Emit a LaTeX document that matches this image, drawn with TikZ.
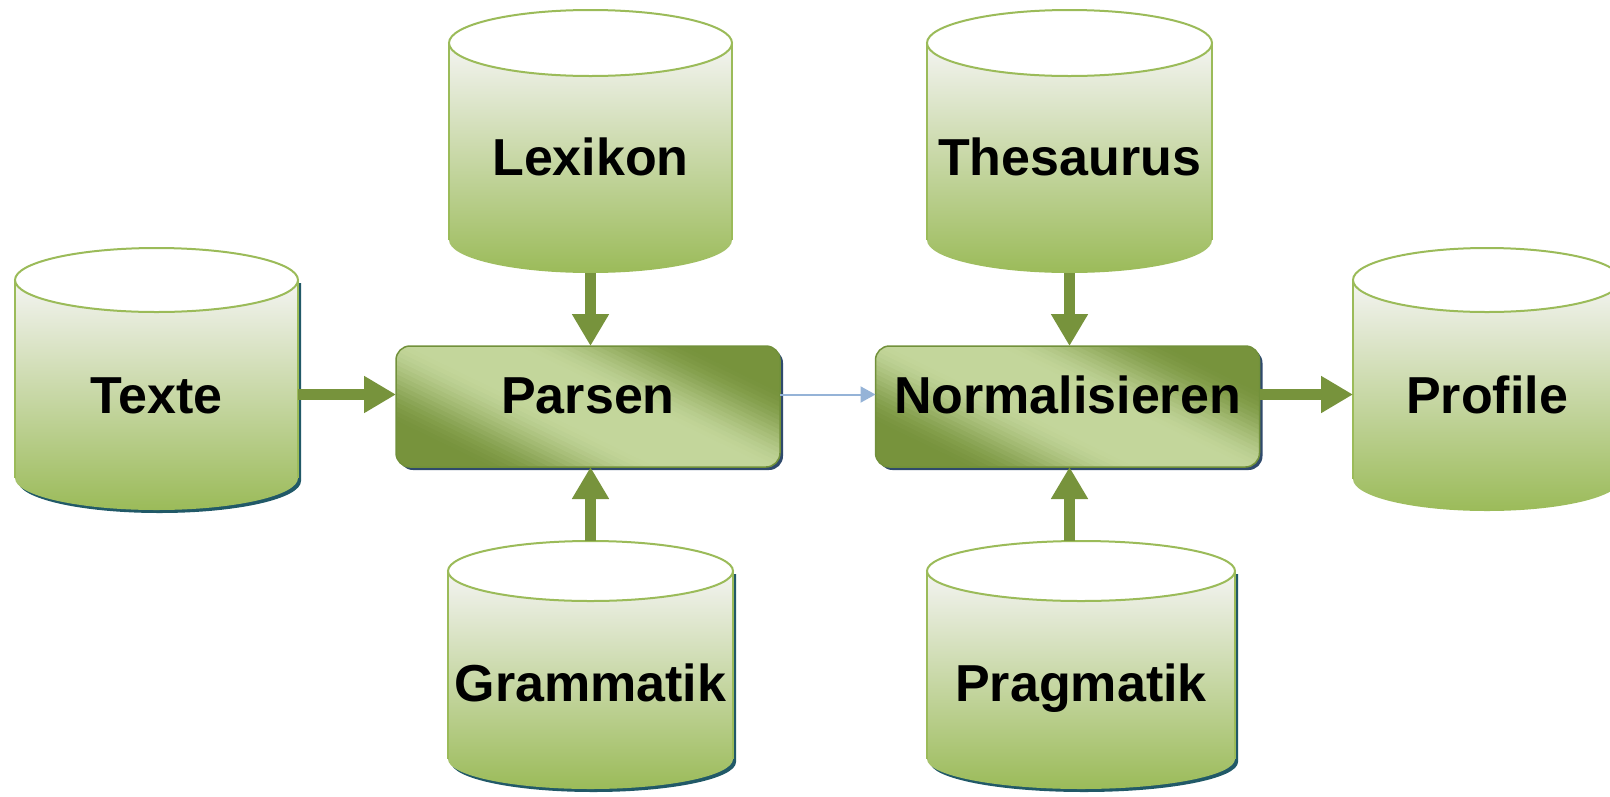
\documentclass[tikz,border=0pt]{standalone}
\usepackage{fontspec}
\setmainfont{Liberation Sans}
\usetikzlibrary{arrows.meta,shadows}

\definecolor{drumtop}{HTML}{F4F4F2}
\definecolor{drumbottom}{HTML}{9BBB59}
\definecolor{drumedge}{HTML}{9BBB59}
\definecolor{drumshade}{HTML}{215968}
\definecolor{boxdark}{HTML}{77933C}
\definecolor{boxlight}{HTML}{C3D69B}
\definecolor{boxedge}{HTML}{71903A}
\definecolor{boxshade}{HTML}{2F4A6C}
\definecolor{flowgreen}{HTML}{77933C}
\definecolor{flowblue}{HTML}{95B3D7}

% diagonal sheen: light along the top-left/bottom-right diagonal, dark towards
% the other two corners; drawn as thin stripes in box-normalised coordinates
\newcommand\boxsheen{%
  \begin{scope}[shift={(path picture bounding box.center)}, x=192pt, y=93pt]
    \foreach \i in {0,...,87} {
      \pgfmathsetmacro\ssa{-2.2+0.05*\i}
      \pgfmathsetmacro\ssb{\ssa+0.07}
      \pgfmathsetmacro\ssm{abs(\ssa+0.025)}
      \pgfmathsetmacro\sst{min(1,max(0,(\ssm-0.25)/0.95))}
      \pgfmathsetmacro\ssp{100*(1-(3*\sst*\sst-2*\sst*\sst*\sst))}
      \fill[boxlight!\ssp!boxdark] (-3,\ssa+3) -- (3,\ssa-3) -- (3,\ssb-3) -- (-3,\ssb+3) -- cycle;
    }
  \end{scope}%
}

\tikzset{
  drumbody/.style={top color=drumtop, bottom color=drumbottom},
  drumline/.style={draw=drumedge, line width=2pt},
  drumshadow/.style={fill=drumshade},
  drumarea/.style={draw=none, inner sep=0pt, outer sep=0pt},
  procbox/.style={rounded corners=14pt, draw=boxedge, line width=1.5pt,
    fill=boxlight, path picture={\boxsheen},
    inner sep=0pt, outer sep=0pt,
    drop shadow={shadow xshift=3pt, shadow yshift=-3pt, fill=boxshade, opacity=1}},
  lbl/.style={anchor=base, text height=37pt, text depth=0pt, inner sep=0pt},
  flow/.style={draw=flowgreen, line width=10.5pt, -{Triangle[length=32pt,width=35pt]}},
  link/.style={draw=flowblue, line width=2pt, -{Triangle[length=15pt,width=16pt]}}
}

% data store: name, left x, right x, top y, bottom y, ellipse radius, shadow (1/0)
\newcommand\drum[7]{%
  \pgfmathsetmacro\drx{(#3-#2)/2}%
  \pgfmathsetmacro\dcx{(#3+#2)/2}%
  \pgfmathsetmacro\dym{#4+#6}%
  \pgfmathsetmacro\dyl{#5-#6}%
  \pgfmathsetmacro\dcy{(#4+#5)/2}%
  \pgfmathsetmacro\dh{#5-#4}%
  \pgfmathsetmacro\dw{#3-#2}%
  \ifnum#7=1
    \fill[drumshadow, shift={(3,3)}] (#2,\dym) -- (#2,\dyl)
      arc[start angle=180, end angle=360, x radius=\drx pt, y radius=#6pt]
      -- (#3,\dym) -- cycle;
  \fi
  \shade[drumbody] (#2,\dym) -- (#2,\dyl)
    arc[start angle=180, end angle=360, x radius=\drx pt, y radius=#6pt]
    -- (#3,\dym)
    arc[start angle=360, end angle=180, x radius=\drx pt, y radius=#6pt] -- cycle;
  \draw[drumline] (#2,\dyl) -- (#2,\dym) (#3,\dym) -- (#3,\dyl);
  \draw[drumline, fill=white] (\dcx,\dym) ellipse[x radius=\drx pt, y radius=#6pt];
  \node[drumarea, minimum width=\dw, minimum height=\dh] (#1) at (\dcx,\dcy) {};
}

\begin{document}
\begin{tikzpicture}[x=1pt, y=-1pt, font=\fontsize{52}{60}\selectfont\bfseries]
\useasboundingbox (0,0) rectangle (1610,796);
\clip (0,0) rectangle (1610,796);

% data stores
\drum{texte}{15}{298}{248}{510}{32}{1}
\drum{lexikon}{449}{732}{10}{273}{33}{0}
\drum{thesaurus}{927}{1212}{10}{273}{33}{0}
\drum{profile}{1353}{1621}{248}{511}{32}{0}
\drum{grammatik}{448}{733}{541}{789}{30}{1}
\drum{pragmatik}{927}{1235}{541}{789}{30}{1}

% processing steps
\node[procbox, minimum width=384, minimum height=121] (parsen) at (588,406.5) {};
\node[procbox, minimum width=384, minimum height=121] (norm) at (1067.5,406.5) {};

% labels
\node[lbl] (texteL) at (156.5,413) {Texte};
\node[lbl] (lexikonL) at (590.5,175) {Lexikon};
\node[lbl] (thesaurusL) at (1069.5,175) {Thesaurus};
\node[lbl] (profileL) at (1487,413) {Profile};
\node[lbl] (grammatikL) at (590.5,701) {Grammatik};
\node[lbl] (pragmatikL) at (1081,701) {Pragmatik};
\node[lbl] (parsenL) at (588,413) {Parsen};
\node[lbl] (normL) at (1067.5,413) {Normalisieren};

% connectors
\draw[flow] (texte.east |- parsenL) -- (parsen.west |- parsenL);
\draw[link] (parsen.east |- parsenL) -- (norm.west |- parsenL);
\draw[flow] (norm.east |- normL) -- (profile.west |- normL);
\draw[flow] (lexikon.south) -- (lexikon.south |- parsen.north);
\draw[flow] (grammatik.north) -- (grammatik.north |- parsen.south);
\draw[flow] (thesaurus.south) -- (thesaurus.south |- norm.north);
\draw[flow] (pragmatik.north -| thesaurus.south) -- (norm.south -| thesaurus.south);
\end{tikzpicture}
\end{document}
